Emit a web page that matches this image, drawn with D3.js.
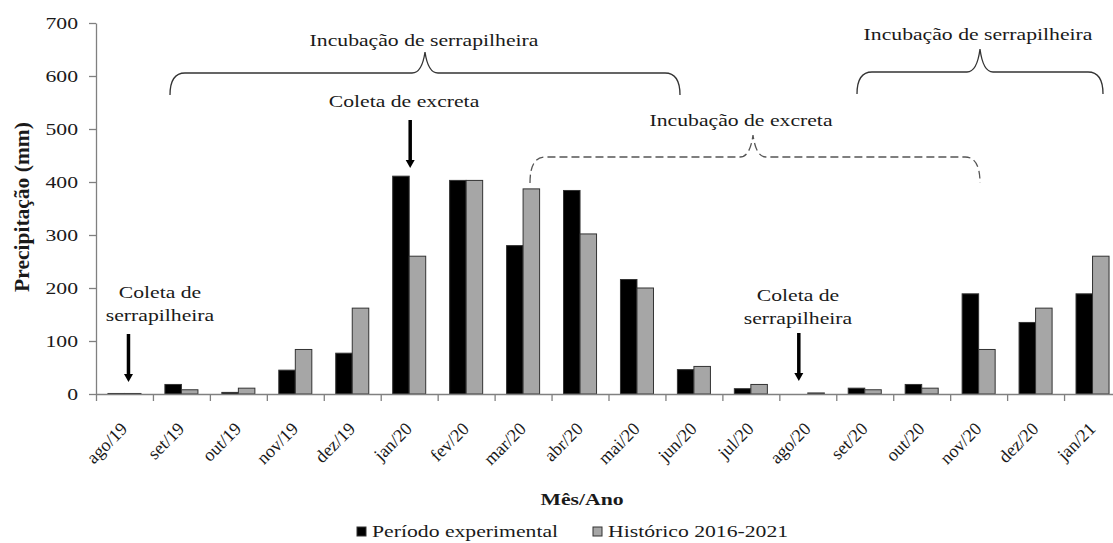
<!DOCTYPE html>
<html>
<head>
<meta charset="utf-8">
<script src="https://cdn.jsdelivr.net/npm/d3@7"></script>
<style>
  body { margin: 0; background: #fff; }
  text { font-family: "Liberation Serif", "Times New Roman", serif; fill: #1a1a1a; }
</style>
</head>
<body>
<script>
// Dados
const meses = ["ago/19", "set/19", "out/19", "nov/19", "dez/19", "jan/20", "fev/20", "mar/20", "abr/20",
               "mai/20", "jun/20", "jul/20", "ago/20", "set/20", "out/20", "nov/20", "dez/20", "jan/21"];
const periodoExperimental = [1, 18, 3, 45, 77, 411, 403, 280, 384, 216, 46, 10, 0, 11, 18, 189, 135, 189];
const historico = [1, 8, 11, 84, 162, 260, 403, 387, 302, 200, 52, 18, 2, 8, 11, 84, 162, 260];
const yTicks = [0, 100, 200, 300, 400, 500, 600, 700];
const series = ["Período experimental", "Histórico 2016-2021"];
const cores = ["#000000", "#a6a6a6"];

// Variáveis
const w = 1113;
const h = 543;
const xLeft = 96, xRight = 1121, yTop = 23, yBottom = 394;
const sx = 1.24; // a figura original está esticada na horizontal
const fs = 17.5;

const svg = d3.select("body")
              .append("svg")
              .attr("width", w)
              .attr("height", h);

// Escalas
const x = d3.scaleBand()
            .domain(meses)
            .range([xLeft, xRight])
            .paddingInner(0.42)
            .paddingOuter(0.21);
const xSub = d3.scaleBand()
               .domain(series)
               .range([0, x.bandwidth()]);
const y = d3.scaleLinear()
            .domain([0, 700])
            .range([yBottom, yTop]);
const xEdge = d3.scaleLinear()
                .domain([0, meses.length])
                .range([xLeft, xRight]);

// Barras
const dados = meses.map((m, i) => ({ mes: m, valores: [periodoExperimental[i], historico[i]] }));
svg.append("g")
    .selectAll("g")
    .data(dados)
    .join("g")
    .attr("transform", d => `translate(${x(d.mes)},0)`)
    .selectAll("rect")
    .data(d => d.valores.map((v, k) => ({ serie: series[k], v: v, k: k })))
    .join("rect")
    .attr("x", d => xSub(d.serie))
    .attr("y", d => y(d.v))
    .attr("width", xSub.bandwidth())
    .attr("height", d => y(0) - y(d.v))
    .attr("fill", d => cores[d.k])
    .attr("stroke", "#333")
    .attr("stroke-width", 1);

// Eixo Y
const yAxis = svg.append("g")
    .attr("transform", `translate(${xLeft},0)`)
    .call(d3.axisLeft(y).tickValues(yTicks).tickSize(7).tickSizeOuter(0));
yAxis.attr("font-size", fs).attr("font-family", null);
yAxis.selectAll("path, line").attr("stroke", "#808080").attr("stroke-width", 1.3);
yAxis.selectAll("text")
    .attr("x", null)
    .attr("fill", "#1a1a1a")
    .attr("transform", `translate(-18,0) scale(${sx},1)`);

// Eixo X (marcas entre as categorias)
const xAxis = svg.append("g")
    .attr("transform", `translate(0,${yBottom})`)
    .call(d3.axisBottom(xEdge).tickValues(d3.range(0, meses.length + 1)).tickFormat("").tickSize(7).tickSizeOuter(0));
xAxis.selectAll("path, line").attr("stroke", "#808080").attr("stroke-width", 1.3);

// Rótulos dos meses (45 graus)
svg.append("g")
    .selectAll("text")
    .data(meses)
    .join("text")
    .attr("text-anchor", "end")
    .attr("font-size", 18)
    .attr("transform", d => `translate(${x(d) + x.bandwidth() / 2 + 4},430) rotate(-45)`)
    .text(d => d);

// Títulos dos eixos
svg.append("text")
    .attr("text-anchor", "middle")
    .attr("font-size", 21.5)
    .attr("font-weight", "bold")
    .attr("transform", "translate(29,207) rotate(-90)")
    .text("Precipitação (mm)");

svg.append("text")
    .attr("text-anchor", "middle")
    .attr("font-size", fs)
    .attr("font-weight", "bold")
    .attr("transform", `translate(582,505) scale(${sx},1)`)
    .text("Mês/Ano");

// Legenda
const legenda = svg.append("g")
    .selectAll("g")
    .data(series)
    .join("g")
    .attr("transform", (d, i) => `translate(${[357, 593][i]},527)`);
legenda.append("rect")
    .attr("width", 9)
    .attr("height", 9)
    .attr("fill", (d, i) => cores[i])
    .attr("stroke", "#333")
    .attr("stroke-width", 1);
legenda.append("text")
    .attr("font-size", fs)
    .attr("transform", `translate(15,10) scale(${sx},1)`)
    .text(d => d);

// Anotações
function texto(t, cx, by) {
    svg.append("text")
        .attr("text-anchor", "middle")
        .attr("font-size", fs)
        .attr("transform", `translate(${cx},${by}) scale(${sx},1)`)
        .text(t);
}

function chave(x0, x1, xm, yLinha, yPonta, yFim) {
    const r = 15;
    return `M${x0},${yFim} Q${x0},${yLinha} ${x0 + r},${yLinha} L${xm - 13},${yLinha} ` +
           `Q${xm - 3},${yLinha} ${xm},${yPonta} Q${xm + 3},${yLinha} ${xm + 13},${yLinha} ` +
           `L${x1 - r},${yLinha} Q${x1},${yLinha} ${x1},${yFim}`;
}

function seta(cx, y0, y1) {
    svg.append("line")
        .attr("x1", cx).attr("x2", cx)
        .attr("y1", y0).attr("y2", y1 - 6)
        .attr("stroke", "#000")
        .attr("stroke-width", 3.5);
    svg.append("path")
        .attr("d", `M${cx - 4.5},${y1 - 8} L${cx + 4.5},${y1 - 8} L${cx},${y1} Z`)
        .attr("fill", "#000");
}

// chaves de incubação
svg.append("path")
    .attr("d", chave(170, 680, 425, 73, 52, 95))
    .attr("fill", "none").attr("stroke", "#333").attr("stroke-width", 1.3);
svg.append("path")
    .attr("d", chave(857, 1103, 980, 72, 49, 94))
    .attr("fill", "none").attr("stroke", "#333").attr("stroke-width", 1.3);
svg.append("path")
    .attr("d", chave(530, 980, 753, 157, 135, 183))
    .attr("fill", "none").attr("stroke", "#555").attr("stroke-width", 1.3)
    .attr("stroke-dasharray", "8,4");

texto("Incubação de serrapilheira", 424, 46);
texto("Incubação de serrapilheira", 978, 40);
texto("Incubação de excreta", 741, 126);
texto("Coleta de excreta", 404, 107);
texto("Coleta de", 160, 298);
texto("serrapilheira", 160, 321);
texto("Coleta de", 798, 301);
texto("serrapilheira", 798, 324);

// setas de coleta
seta(x("jan/20") + x.bandwidth() / 2 + 1, 120, 168);
seta(x("ago/19") + x.bandwidth() / 2 + 4, 334, 382);
seta(x("ago/20") + x.bandwidth() / 2 - 9, 333, 381);
</script>
</body>
</html>
